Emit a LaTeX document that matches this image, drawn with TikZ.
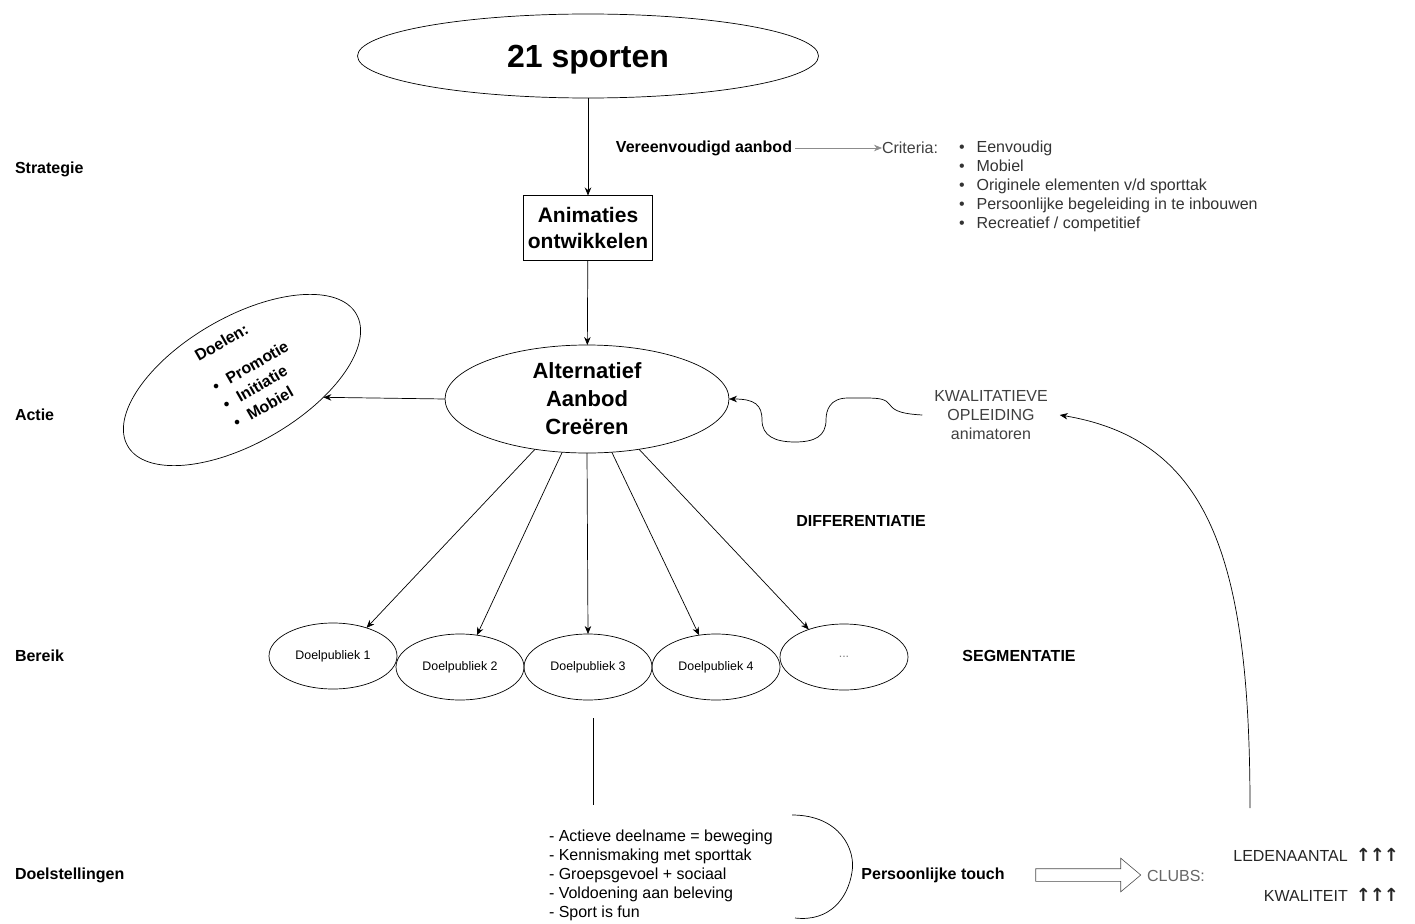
\documentclass[tikz,border=0pt]{standalone}
\usepackage{fontspec}
\setmainfont{Liberation Sans}
\newfontfamily\arrowfont{DejaVu Sans}
\usetikzlibrary{arrows.meta,shapes.geometric,shapes.arrows}

\begin{document}
\begin{tikzpicture}[x=1pt, y=-1pt, line width=0.7pt, >={Stealth[length=8pt,width=6.5pt]},
  every node/.style={font=\fontsize{16}{19}\selectfont, inner sep=0pt, outer sep=0pt},
  lbl/.style={font=\fontsize{16}{20}\selectfont\bfseries},
  dp/.style={draw, ellipse, minimum width=128pt, minimum height=66pt, font=\fontsize{12.4}{14}\selectfont}]

  \useasboundingbox (0,0) rectangle (1415,923);

  % levels on the left
  \node[lbl, anchor=west] (strat) at (15,169) {Strategie};
  \node[lbl, anchor=west] (actie) at (15,415) {Actie};
  \node[lbl, anchor=west] (bereik) at (15,656) {Bereik};
  \node[lbl, anchor=west] (doelst) at (15,875) {Doelstellingen};

  \node[draw, ellipse, minimum width=461pt, minimum height=84pt, text depth=0pt, font=\fontsize{32}{36}\selectfont\bfseries] (sporten) at (588,56) {21 sporten};
  \node[draw, minimum width=129pt, minimum height=65pt, align=center, font=\fontsize{21}{26}\selectfont\bfseries] (anim) at (588,228) {Animaties\\ontwikkelen};
  \path[->] (sporten) edge (anim);
  \node[draw, ellipse, minimum width=284pt, minimum height=108pt, align=center, font=\fontsize{22}{28}\selectfont\bfseries] (alt) at (587,399) {Alternatief\\Aanbod\\Creëren};
  \path[->] (anim) edge (alt);

  \node[lbl, inner sep=3pt] (vereen) at (704,148) {Vereenvoudigd aanbod};
  \node[anchor=west, text=black!75] (crit) at (882,148) {Criteria:};
  \path[->] (vereen.east) edge[draw=black!45] (vereen.east -| crit.west);
  \node[anchor=north west, align=left, text=black!80] (critlist) at (959,141) {\textbullet\hspace{12pt}Eenvoudig\\\textbullet\hspace{12pt}Mobiel\\\textbullet\hspace{12pt}Originele elementen v/d sporttak\\\textbullet\hspace{12pt}Persoonlijke begeleiding in te inbouwen\\\textbullet\hspace{12pt}Recreatief / competitief};

  \node[draw, ellipse, rotate=30, minimum width=264pt, minimum height=126pt] (doelen) at (242,380) {};
  \node[lbl, rotate=30, align=left, font=\fontsize{16}{21}\selectfont\bfseries] (doeltxt) at (252,369) {Doelen:\\[14pt]\textbullet\hspace{10pt}Promotie\\\textbullet\hspace{10pt}Initiatie\\\textbullet\hspace{10pt}Mobiel};
  \path[->] (alt.west) edge (doelen.-42);

  \node[align=center, text=black!75, inner xsep=12pt] (kwal) at (991,415) {KWALITATIEVE\\OPLEIDING\\animatoren};
  \draw[->] (kwal.west) .. controls (905,414) and (895,412) .. (890,405)
    .. controls (886,399) and (880,398) .. (865,398) -- (848,398)
    .. controls (830,398) and (826,410) .. (826,420)
    .. controls (826,436) and (815,442) .. (795,442)
    .. controls (775,442) and (762,436) .. (762,420)
    .. controls (762,405) and (755,399) .. (alt.east);

  \node[lbl] (diff) at (861,521) {DIFFERENTIATIE};
  \node[lbl] (segm) at (1019,656) {SEGMENTATIE};

  \node[dp] (dp1) at (333,656) {Doelpubliek 1};
  \node[dp] (dp2) at (460,667) {Doelpubliek 2};
  \node[dp] (dp3) at (588,667) {Doelpubliek 3};
  \node[dp] (dp4) at (716,667) {Doelpubliek 4};
  \node[dp, text=black!50] (dp5) at (844,657) {...};
  \path[->] (alt.-136) edge (dp1.40)
            (alt.-115) edge (dp2.62)
            (alt.-90) edge (dp3.north)
            (alt.-65) edge (dp4.118)
            (alt.-44) edge (dp5.142);

  \coordinate (vlA) at (593,718);
  \coordinate (vlB) at (593,805);
  \draw (vlA) -- (vlB);

  \node[anchor=west, align=left] (doeltext) at (549,875) {- Actieve deelname = beweging\\- Kennismaking met sporttak\\- Groepsgevoel + sociaal\\- Voldoening aan beleving\\- Sport is fun};
  \draw (792,815) .. controls (840,815) and (856,850) .. (852,872) .. controls (848,898) and (830,922) .. (795,918);

  \node[lbl] (touch) at (933,875) {Persoonlijke touch};
  \node[draw=black!70, single arrow, single arrow head extend=10.5pt, single arrow tip angle=80, minimum height=105pt, inner xsep=0pt, inner ysep=6pt, line width=0.6pt] (bigarrow) at (1084.5,875) {};
  \node[text=black!60] (clubs) at (1176,876) {CLUBS:};

  \node[anchor=east, text=black!85] (leden) at (1399,855) {LEDENAANTAL\hspace{8pt}{\arrowfont\fontsize{18}{19}\selectfont\bfseries ↑\kern-1pt↑\kern-1pt↑}};
  \node[anchor=east, text=black!85] (kwalit) at (1399,895) {KWALITEIT\hspace{8pt}{\arrowfont\fontsize{18}{19}\selectfont\bfseries ↑\kern-1pt↑\kern-1pt↑}};
  \coordinate (ledtop) at (1250,808);
  \draw[->] (ledtop) .. controls (1250,560) and (1210,440) .. (kwal.east);
\end{tikzpicture}
\end{document}
